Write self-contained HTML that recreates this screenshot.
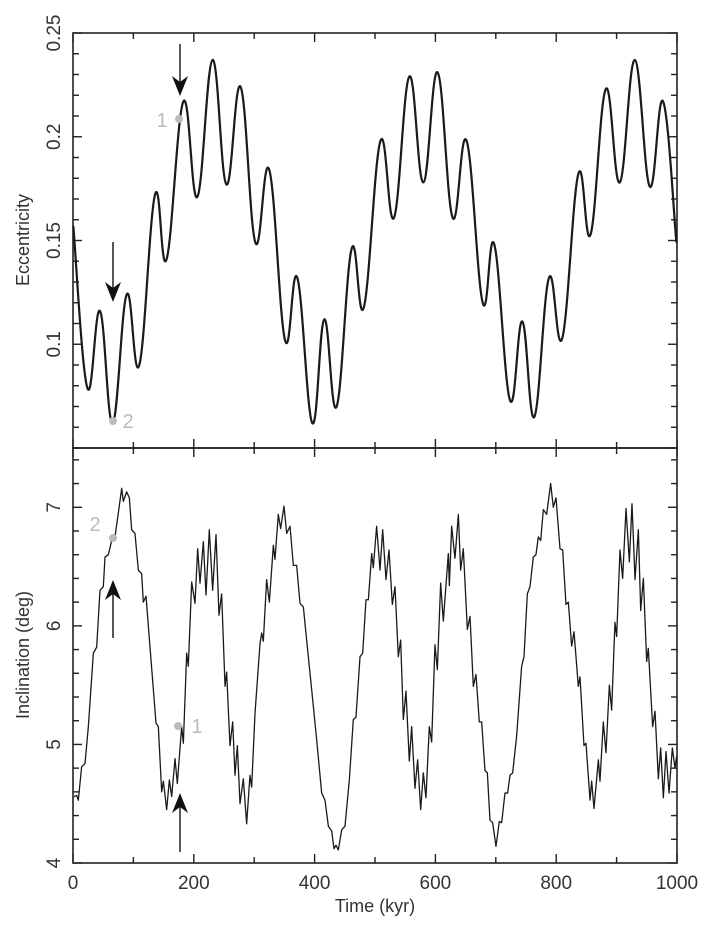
<!DOCTYPE html>
<html><head><meta charset="utf-8"><style>
html,body{margin:0;padding:0;background:#fff;}
svg{display:block;font-family:"Liberation Sans",sans-serif;}
</style></head><body>
<svg id="chart" width="706" height="928" viewBox="0 0 706 928" xmlns="http://www.w3.org/2000/svg">
<g id="g"></g>
</svg>
<script>
const eccTime=[0.5,23.7,44.7,65.7,88.9,109.8,135.7,155,182.7,205.8,231,254,277.6,301.9,325,351,371.4,396.2,416,436.5,461.3,481.7,509,531.5,556.8,580,603.7,628.5,651.7,678.3,697.6,723.5,743.9,763.8,788,810.1,836.6,857,882.1,905.3,930.1,954.9,977,999];
const eccValue=[0.157,0.079,0.116,0.062,0.124,0.090,0.172,0.141,0.217,0.171,0.237,0.177,0.224,0.149,0.184,0.102,0.132,0.062,0.112,0.070,0.146,0.118,0.198,0.161,0.229,0.178,0.231,0.161,0.198,0.120,0.148,0.073,0.111,0.065,0.132,0.103,0.182,0.153,0.223,0.178,0.237,0.176,0.217,0.149];
const incTime=[1.7,6.1,8.8,14.3,19.9,25.4,33.7,39.2,44.7,50.2,53.0,58.5,64.0,69.5,75.0,80.6,83.3,88.9,93.3,97.1,102.6,108.2,113.7,116.4,120.9,127.5,137.4,141.3,146.8,149.6,155.1,159.5,163.4,168.9,172.7,179.9,182.7,188.2,190.9,196.5,202.0,206.4,210.3,215.8,220.2,225.7,231.2,236.8,241.7,246.1,251.7,254.4,259.9,264.4,268.2,272.1,276.5,282.0,287.5,293.0,295.8,301.3,309.6,312.4,315.1,320.6,325.1,331.7,334.4,339.9,343.8,349.3,353.8,359.3,364.8,370.3,375.8,381.4,388.0,395.2,403.4,411.7,417.2,422.8,428.3,432.1,435.4,439.3,444.8,450.3,457.5,464.1,468.5,475.2,479.6,485.1,489.0,494.5,497.2,502.7,508.3,512.7,518.2,523.2,528.7,533.1,538.6,542.5,546.9,551.3,556.8,560.7,566.2,570.6,575.6,580.0,584.4,589.9,593.8,599.3,603.2,608.7,613.1,621.4,623.1,626.9,632.4,638.0,641.8,646.2,652.9,657.3,662.8,667.2,672.7,676.6,682.1,686.0,690.4,694.8,700.3,705.8,709.7,715.2,719.6,723.5,727.9,734.5,742.8,746.7,752.2,756.6,762.1,766.5,770.4,774.3,778.7,784.2,790.8,795.2,799.7,806.3,810.7,816.2,820.1,825.6,829.5,836.6,839.4,846.0,849.3,856.0,858.7,862.6,869.8,872.5,878.0,882.4,888.0,891.8,897.3,900.1,905.6,910.0,915.6,921.1,925.5,930.5,936.0,939.9,944.3,949.8,952.5,959.7,963.6,969.1,973.0,977.4,981.8,986.8,992.3,996.7,999.4];
const incValue=[4.56,4.57,4.53,4.81,4.84,5.15,5.77,5.82,6.30,6.33,6.58,6.60,6.72,6.75,6.95,7.16,7.05,7.13,7.08,6.81,6.78,6.47,6.44,6.20,6.25,5.82,5.18,5.15,4.60,4.69,4.45,4.70,4.56,4.88,4.67,5.15,5.01,5.77,5.66,6.37,6.19,6.65,6.36,6.71,6.26,6.81,6.30,6.77,6.09,6.27,5.49,5.61,4.99,5.19,4.74,4.99,4.50,4.71,4.33,4.74,4.64,5.26,5.85,5.94,5.87,6.39,6.20,6.68,6.56,6.94,6.82,7.01,6.78,6.84,6.51,6.51,6.19,6.16,5.82,5.46,5.04,4.59,4.53,4.31,4.27,4.12,4.15,4.11,4.28,4.31,4.70,5.21,5.23,5.74,5.77,6.22,6.22,6.61,6.49,6.84,6.47,6.81,6.39,6.64,6.18,6.33,5.74,5.88,5.21,5.45,4.86,5.15,4.63,4.87,4.45,4.76,4.55,5.15,5.02,5.84,5.63,6.36,6.04,6.61,6.34,6.84,6.57,6.94,6.47,6.65,5.97,6.08,5.49,5.59,5.19,5.19,4.78,4.76,4.36,4.34,4.14,4.35,4.34,4.59,4.59,4.74,4.76,5.07,5.66,5.74,6.27,6.33,6.58,6.60,6.75,6.72,6.98,6.94,7.20,7.00,7.08,6.65,6.64,6.18,6.20,5.83,5.95,5.49,5.57,4.99,5.01,4.53,4.69,4.46,4.87,4.69,5.19,4.93,5.50,5.29,6.03,5.91,6.64,6.40,6.99,6.54,7.03,6.39,6.81,6.13,6.40,5.70,5.81,5.15,5.28,4.71,4.97,4.55,4.94,4.59,4.97,4.80,4.90];
const xTickLabels=["0","200","400","600","800","1000"];
const eccTickLabels=["0.1","0.15","0.2","0.25"];
const incTickLabels=["4","5","6","7"];

const NS="http://www.w3.org/2000/svg";
const G=document.getElementById('g');
const L=73,R=677,T=33,M=448,B=863;
const xs=t=>L+(t/1000)*(R-L);
const ye=e=>M-(e-0.05)/0.2*(M-T);
const yi=v=>B-(v-4)/3.5*(B-M);
function mk(tag,attrs,parent){const e=document.createElementNS(NS,tag);for(const k in attrs)e.setAttribute(k,attrs[k]);(parent||G).appendChild(e);return e;}
const C="#222";
// frames
let f=mk('rect',{x:L,y:T,width:R-L,height:M-T,fill:'none',stroke:C,'stroke-width':1.6});


f=mk('rect',{x:L,y:M,width:R-L,height:B-M,fill:'none',stroke:C,'stroke-width':1.6});


// x ticks
for(let t=0;t<=1000;t+=100){const x=xs(t);const len=(t%200===0)?9:6;
 for(const [y0,dir] of [[T,1],[M,-1],[M,1],[B,-1]]){let tk=mk('line',{x1:x,x2:x,y1:y0,y2:y0+dir*len,stroke:C,'stroke-width':1.4});
 
 }}
xTickLabels.forEach((s,i)=>{let tx=mk('text',{x:xs(i*200),y:889,'text-anchor':'middle','font-size':19,fill:'#333'});tx.textContent=s;
 
 });
let xt=mk('text',{x:375,y:912,'text-anchor':'middle','font-size':18,fill:'#333'});xt.textContent='Time  (kyr)';


// ecc y ticks
for(let k=5;k<=25;k++){const e=k/100;const y=ye(e);const len=(k%5===0)?9:6;
 for(const [x0,dir] of [[L,1],[R,-1]]){let tk=mk('line',{x1:x0,x2:x0+dir*len,y1:y,y2:y,stroke:C,'stroke-width':1.4});
 
 }}
eccTickLabels.forEach(s=>{const y=ye(parseFloat(s));let tx=mk('text',{x:0,y:0,transform:`translate(60,${y}) rotate(-90)`,'text-anchor':'middle','font-size':19,fill:'#333'});tx.textContent=s;
 
 });
let yt=mk('text',{x:0,y:0,transform:'translate(29,240) rotate(-90)','text-anchor':'middle','font-size':18,fill:'#333'});yt.textContent='Eccentricity';


// inc y ticks
for(let k=0;k<=17;k++){const v=4+k*0.2;const y=yi(v);const len=(k%5===0)?9:6;
 for(const [x0,dir] of [[L,1],[R,-1]]){let tk=mk('line',{x1:x0,x2:x0+dir*len,y1:y,y2:y,stroke:C,'stroke-width':1.4});
 
 }}
incTickLabels.forEach(s=>{const y=yi(parseFloat(s));let tx=mk('text',{x:0,y:0,transform:`translate(60,${y}) rotate(-90)`,'text-anchor':'middle','font-size':19,fill:'#333'});tx.textContent=s;
 
 });
yt=mk('text',{x:0,y:0,transform:'translate(29,655) rotate(-90)','text-anchor':'middle','font-size':18,fill:'#333'});yt.textContent='Inclination  (deg)';


// ecc curve (Catmull-Rom)
const ep=eccTime.map((t,i)=>[xs(t),ye(eccValue[i])]);
let d=`M${ep[0][0]},${ep[0][1]}`;
for(let i=0;i<ep.length-1;i++){const p0=ep[Math.max(0,i-1)],p1=ep[i],p2=ep[i+1],p3=ep[Math.min(ep.length-1,i+2)];const k=0.2;
 d+=` C${p1[0]+(p2[0]-p0[0])*k},${p1[1]+(p2[1]-p0[1])*k} ${p2[0]-(p3[0]-p1[0])*k},${p2[1]-(p3[1]-p1[1])*k} ${p2[0]},${p2[1]}`;}
let ec=mk('path',{d:d,fill:'none',stroke:'#1a1a1a','stroke-width':2.2,'stroke-linejoin':'round'});


// inc curve
let ic=mk('polyline',{points:incTime.map((t,i)=>xs(t)+','+yi(incValue[i])).join(' '),fill:'none',stroke:'#1a1a1a','stroke-width':1.3,'stroke-linejoin':'round'});


// markers
function dot(x,y,lab,lx,ly,name){let c=mk('circle',{cx:x,cy:y,r:4,fill:'#bbb'});
 
 
 let t=mk('text',{x:lx,y:ly,'font-size':20,fill:'#bbb','text-anchor':'middle'});t.textContent=lab;
 
 }
dot(113,421,'2',128,428,'ecc-point-2');
dot(179,119,'1',162,127,'ecc-point-1');
dot(113,538,'2',95,531,'inc-point-2');
dot(178,726,'1',197,733,'inc-point-1');
function arrow(x,y1,y2,name){const dir=y2>y1?1:-1;let g=mk('g',{});
 
 
 mk('line',{x1:x,x2:x,y1:y1,y2:y2-dir*10,stroke:'#111','stroke-width':1.4},g);
 mk('polygon',{points:`${x},${y2} ${x-8},${y2-dir*20} ${x},${y2-dir*14} ${x+8},${y2-dir*20}`,fill:'#111'},g);}
arrow(113,242,302,'ecc-arrow-2');
arrow(180,44,96,'ecc-arrow-1');
arrow(113,638,580,'inc-arrow-2');
arrow(180,852,793,'inc-arrow-1');
</script>
</body></html>
